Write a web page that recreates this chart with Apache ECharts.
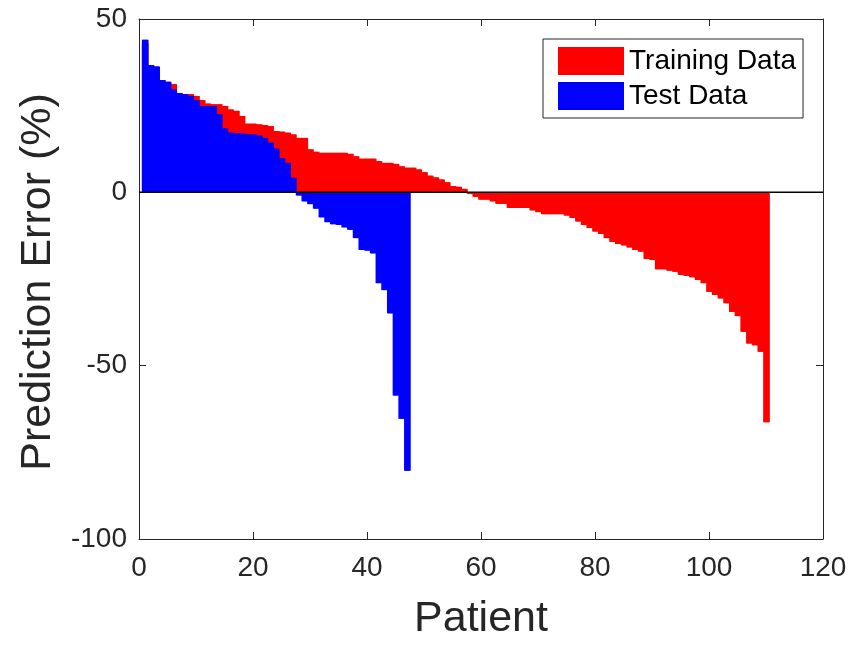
<!DOCTYPE html>
<html><head><meta charset="utf-8">
<script src="https://cdn.jsdelivr.net/npm/echarts@6/dist/echarts.min.js"></script>
<style>html,body{margin:0;padding:0;background:#fff}#c{width:855px;height:648px}</style>
</head><body><div id="c"></div>
<script>
const seriesNames = ['Training Data', 'Test Data'];
const trainingErrors = [
  43, 36.5, 36, 32.2, 31.8, 31.2, 28.6, 28.3, 28.3, 27.8,
  26.6, 25.6, 25.4, 25.4, 24.9, 23.9, 23.5, 22.0, 19.8, 19.8,
  19.6, 19.4, 19.1, 17.7, 17.5, 17.2, 16.7, 15.7, 15.7, 12.4,
  11.7, 11.4, 11.4, 11.4, 11.4, 11.4, 11.1, 10.4, 9.7, 9.7,
  9.7, 9.0, 8.5, 8.5, 8.2, 7.5, 7.1, 7.1, 6.6, 5.8,
  4.8, 4.3, 3.7, 2.9, 1.8, 1.6, 1.0, -0.5, -1.3, -2.1,
  -2.1, -2.6, -3.3, -3.3, -4.5, -4.5, -4.5, -4.5, -5.2, -5.7,
  -6.3, -6.3, -6.3, -6.3, -6.7, -7.4, -8.4, -9.4, -10.3, -11.3,
  -12.0, -13.2, -14.3, -14.9, -15.3, -15.9, -16.6, -17.1, -19.2, -19.5,
  -22.2, -22.2, -22.6, -22.9, -23.8, -24.1, -24.5, -25.3, -26.2, -28.7,
  -29.6, -30.6, -32.0, -34.5, -35.7, -40.2, -43.6, -44.1, -46.0, -66.3
];
const testErrors = [
  44.0, 36.7, 36.3, 32.4, 31.9, 29.7, 28.6, 28.3, 27.8, 26.6,
  24.9, 24.9, 24.9, 22.5, 18.4, 17.2, 17.0, 17.0, 16.7, 16.7,
  16.4, 15.7, 14.3, 12.6, 9.8, 8.5, 4.2, -0.9, -2.6, -3.4,
  -4.7, -7.2, -8.6, -9.2, -9.4, -10.1, -10.8, -13.2, -16.6, -16.8,
  -17.6, -26.2, -28.2, -34.9, -58.6, -65.3, -80.3
];
const xTickValues = [0, 20, 40, 60, 80, 100, 120];
const yTickValues = [-100, -50, 0, 50];
const xTitle = 'Patient';
const yTitle = 'Prediction Error (%)';

const toPairs = arr => arr.map((v, i) => [i + 1, v]);
const font = 'Liberation Sans, Arial, sans-serif';
const axisColor = '#262626';

const xMin = xTickValues[0], xMax = xTickValues[xTickValues.length - 1];
const xInt = xTickValues[1] - xTickValues[0];
const yMin = yTickValues[0], yMax = yTickValues[yTickValues.length - 1];
const yInt = yTickValues[1] - yTickValues[0];

const chart = echarts.init(document.getElementById('c'), null, {renderer: 'canvas'});
chart.setOption({
  animation: false,
  backgroundColor: '#fff',
  grid: {left: 139, right: 32, top: 19, bottom: 109, containLabel: false},
  legend: {
    data: seriesNames,
    orient: 'vertical',
    left: 543, top: 39,
    itemWidth: 66, itemHeight: 28, itemGap: 7,
    padding: [8, 7, 8, 15],
    borderColor: axisColor, borderWidth: 1, backgroundColor: '#fff',
    icon: 'rect',
    textStyle: {fontFamily: font, fontSize: 28, color: '#000'}
  },
  xAxis: [{
    type: 'value', min: xMin, max: xMax, interval: xInt,
    name: xTitle, nameLocation: 'middle', nameGap: 59,
    nameTextStyle: {fontFamily: font, fontSize: 43, color: axisColor},
    axisLine: {show: true, onZero: false, lineStyle: {color: axisColor, width: 1}},
    axisTick: {show: true, inside: true, length: 7, lineStyle: {color: axisColor}},
    axisLabel: {fontFamily: font, fontSize: 28, color: axisColor, margin: 15},
    splitLine: {show: false}
  }, {
    type: 'value', min: xMin, max: xMax, interval: xInt, position: 'top',
    axisLine: {show: true, onZero: false, lineStyle: {color: axisColor, width: 1}},
    axisTick: {show: true, inside: true, length: 7, lineStyle: {color: axisColor}},
    axisLabel: {show: false}, splitLine: {show: false}
  }],
  yAxis: [{
    type: 'value', min: yMin, max: yMax, interval: yInt,
    name: yTitle, nameLocation: 'middle', nameGap: 78, nameRotate: 90,
    nameTextStyle: {fontFamily: font, fontSize: 43, color: axisColor, padding: [0, 6, 0, 0]},
    axisLine: {show: true, onZero: false, lineStyle: {color: axisColor, width: 1}},
    axisTick: {show: true, inside: true, length: 7, lineStyle: {color: axisColor}},
    axisLabel: {fontFamily: font, fontSize: 28, color: axisColor, margin: 12},
    splitLine: {show: false}
  }, {
    type: 'value', min: yMin, max: yMax, interval: yInt, position: 'right',
    axisLine: {show: true, onZero: false, lineStyle: {color: axisColor, width: 1}},
    axisTick: {show: true, inside: true, length: 7, lineStyle: {color: axisColor}},
    axisLabel: {show: false}, splitLine: {show: false}
  }],
  series: [{
    name: seriesNames[0], type: 'bar', xAxisIndex: 0, yAxisIndex: 0,
    data: toPairs(trainingErrors),
    barWidth: '100%', barGap: '-100%',
    itemStyle: {color: '#ff0000', borderWidth: 0, shadowColor: '#ff0000', shadowBlur: 0, shadowOffsetX: 1, shadowOffsetY: 0},
    emphasis: {disabled: true}
  }, {
    name: seriesNames[1], type: 'bar', xAxisIndex: 0, yAxisIndex: 0,
    data: toPairs(testErrors),
    barWidth: '100%', barGap: '-100%',
    itemStyle: {color: '#0000ff', borderWidth: 0, shadowColor: '#0000ff', shadowBlur: 0, shadowOffsetX: 1, shadowOffsetY: 0},
    emphasis: {disabled: true}
  }, {
    name: 'baseline', type: 'line', xAxisIndex: 0, yAxisIndex: 0,
    data: [[xMin, 0], [xMax, 0]], showSymbol: false, symbol: 'none', z: 5, silent: true,
    lineStyle: {color: '#000', width: 1.5}
  }]
});
</script></body></html>
